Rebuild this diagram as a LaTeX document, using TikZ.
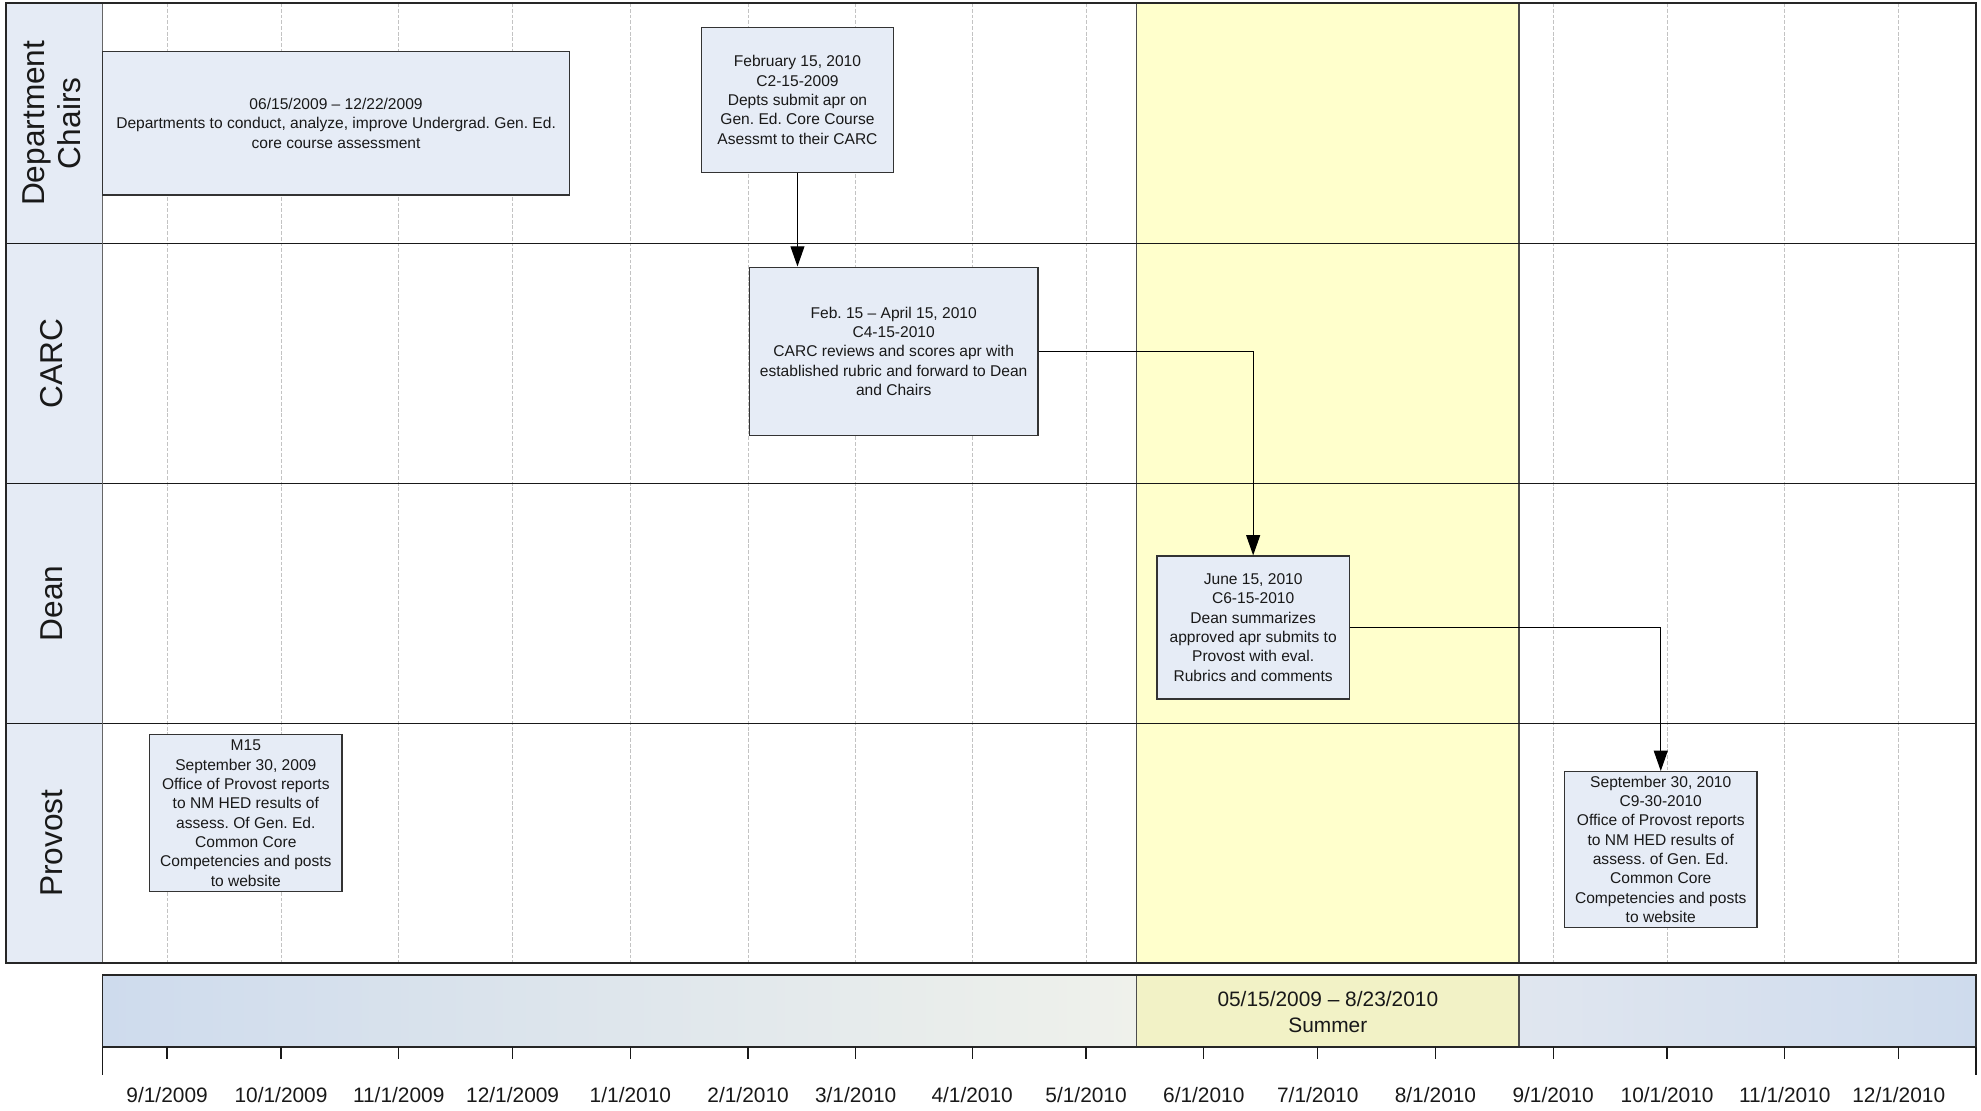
\documentclass[tikz,border=0pt]{standalone}
\usepackage{fontspec}
\setmainfont{Liberation Sans}
\usetikzlibrary{arrows.meta}
\frenchspacing
\definecolor{lanebg}{RGB}{229,235,245}
\definecolor{boxbg}{RGB}{230,236,246}
\definecolor{summer}{RGB}{255,255,204}
\definecolor{barsummer}{RGB}{242,242,198}
\definecolor{barblue}{RGB}{206,219,237}
\definecolor{barmid}{RGB}{239,241,235}
\definecolor{barright}{RGB}{224,230,239}
\definecolor{gridgray}{RGB}{195,195,195}
\begin{document}
\begin{tikzpicture}[x=1pt,y=-1pt,
  evbox/.style={draw=black!80, line width=0.9pt, fill=boxbg, align=center, inner sep=0pt,
    font=\fontsize{12.3}{15.3}\selectfont, text=black!90},
  arr/.style={draw=black, line width=0.9pt, -{Triangle[length=16pt,width=11pt]}},
  lanelbl/.style={rotate=90, align=center, font=\fontsize{25}{29}\selectfont, text=black!90},
  gridln/.style={draw=gridgray, line width=0.7pt, dash pattern=on 3pt off 1.5pt},
  datelbl/.style={font=\fontsize{16.5}{19}\selectfont, text=black!90},
  tickln/.style={draw=black!90, line width=1pt}]
\useasboundingbox (0,0) rectangle (1565,877);
\fill[white] (0,0) rectangle (1565,877);
% label column
\fill[lanebg] (5,2.6) rectangle (81,761);
% month gridlines
\foreach \x in {132,222,315,405,498,591,676,768,858,951,1041,1134,1227,1317,1410,1500}
  \draw[gridln] (\x,2.6) -- (\x,761);
% summer band
\fill[summer] (898,2.6) rectangle (1200,761);
\draw[black!70, line width=0.8pt] (898,2.6) -- (898,761) (1200,2.6) -- (1200,761);
% lanes
\foreach \y in {192.2,381.8,571.4}
  \draw[black!90, line width=1.1pt] (5,\y) -- (1561,\y);
\draw[black!60, line width=1.5pt] (81,2.6) -- (81,761);
\draw[black!85, line width=1.5pt] (5,2.6) rectangle (1561,761);
% lane labels
\node[lanelbl] (lDept) at (41,97.4) {Department\\Chairs};
\node[lanelbl] (lCarc) at (41,287) {CARC};
\node[lanelbl] (lDean) at (41,476.6) {Dean};
\node[lanelbl] (lProv) at (41,666.2) {Provost};
% event boxes
\node[evbox, minimum width=369pt, minimum height=113pt] (dept) at (265.5,97.5)
  {06/15/2009 – 12/22/2009\\Departments to conduct, analyze, improve Undergrad. Gen. Ed.\\core course assessment};
\node[evbox, minimum width=152pt, minimum height=114pt] (feb) at (630,79)
  {February 15, 2010\\C2-15-2009\\Depts submit apr on\\Gen. Ed. Core Course\\Asessmt to their CARC};
\node[evbox, minimum width=228pt, minimum height=133pt] (carc) at (706,277.5)
  {Feb. 15 – April 15, 2010\\C4-15-2010\\CARC reviews and scores apr with\\established rubric and forward to Dean\\and Chairs};
\node[evbox, minimum width=152pt, minimum height=113pt] (dean) at (990,495.7)
  {June 15, 2010\\C6-15-2010\\Dean summarizes\\approved apr submits to\\Provost with eval.\\Rubrics and comments};
\node[evbox, minimum width=152pt, minimum height=123pt] (prov2) at (1312,671)
  {September 30, 2010\\C9-30-2010\\Office of Provost reports\\to NM HED results of\\assess. of Gen. Ed.\\Common Core\\Competencies and posts\\to website};
\node[evbox, minimum width=152pt, minimum height=124pt] (m15) at (194.2,642.5)
  {M15\\September 30, 2009\\Office of Provost reports\\to NM HED results of\\assess. Of Gen. Ed.\\Common Core\\Competencies and posts\\to website};
% connectors
\draw[arr] (feb.south) -- (feb.south |- carc.north);
\draw[arr] (carc.east) -| (dean.north);
\draw[arr] (dean.east) -| (prov2.north);
% timeline bar
\shade[left color=barblue, right color=barmid] (81,770) rectangle (898,827);
\fill[barsummer] (898,770) rectangle (1200,827);
\shade[left color=barright, right color=barblue] (1200,770) rectangle (1561,827);
\draw[black!70, line width=0.8pt] (898,770) -- (898,827) (1200,770) -- (1200,827);
\draw[black!85, line width=1.4pt] (81,770) rectangle (1561,827);
\node[align=center, font=\fontsize{16.5}{20}\selectfont, text=black!90] (sumlbl) at (1049,799.5)
  {05/15/2009 – 8/23/2010\\Summer};
\draw[tickln] (81,827) -- (81,849) (1561,827) -- (1561,849);
\foreach \x/\t [count=\i] in {132/{9/1/2009},222/{10/1/2009},315/{11/1/2009},405/{12/1/2009},498/{1/1/2010},591/{2/1/2010},676/{3/1/2010},768/{4/1/2010},858/{5/1/2010},951/{6/1/2010},1041/{7/1/2010},1134/{8/1/2010},1227/{9/1/2010},1317/{10/1/2010},1410/{11/1/2010},1500/{12/1/2010}}{
  \draw[tickln] (\x,827) -- (\x,837);
  \node[datelbl] (month\i) at (\x,865) {\t};
}
\end{tikzpicture}
\end{document}
